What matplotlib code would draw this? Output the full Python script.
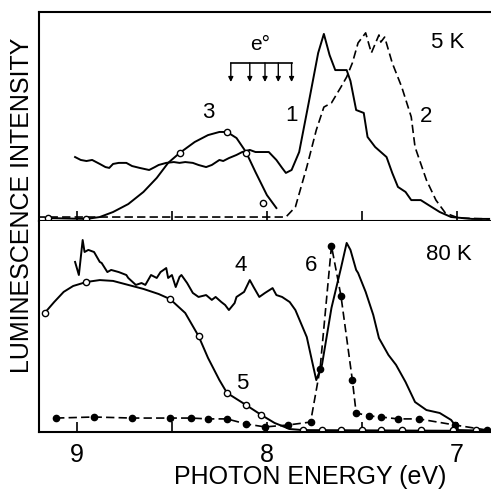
import matplotlib
matplotlib.use('Agg')
import matplotlib.pyplot as plt

plt.rcParams['font.family'] = ['Liberation Sans', 'DejaVu Sans']

# ---- 5 K panel ----
c1_e = [9.01, 8.98, 8.95, 8.92, 8.88, 8.85, 8.83, 8.81, 8.78, 8.74, 8.71, 8.67, 8.62, 8.59, 8.57,
        8.53, 8.49, 8.46, 8.43, 8.39, 8.36, 8.32, 8.29, 8.25, 8.23, 8.20, 8.16, 8.13, 8.09, 8.06,
        8.03, 7.99, 7.95, 7.92, 7.90, 7.87, 7.83, 7.78, 7.73, 7.70, 7.67, 7.64, 7.58, 7.56, 7.53,
        7.49, 7.47, 7.43, 7.37, 7.34, 7.31, 7.27, 7.24, 7.19, 7.15, 7.09, 7.03, 6.92, 6.83]
c1_i = [30.6, 29.2, 28.7, 29.2, 27.3, 25.8, 25.4, 27.3, 27.8, 27.8, 26.3, 25.4, 24.4, 25.8, 26.8,
        27.8, 28.2, 27.8, 28.2, 27.8, 26.8, 25.8, 26.8, 29.2, 28.7, 30.1, 31.6, 33.0, 34.0, 33.0,
        33.0, 33.0, 29.2, 25.4, 23.0, 24.4, 33.0, 56.5, 80.4, 89.5, 79.4, 72.2, 72.2, 67.0, 53.1,
        51.7, 40.2, 35.4, 30.6, 23.0, 16.3, 13.9, 10.0, 10.0, 7.7, 4.3, 1.9, 1.0, 1.0]

c2_e = [9.21, 7.90, 7.85, 7.79, 7.74, 7.70, 7.66, 7.61, 7.58, 7.55, 7.52, 7.48, 7.45, 7.41, 7.40,
        7.38, 7.34, 7.29, 7.24, 7.22, 7.16, 7.11, 7.06, 6.99, 6.83]
c2_i = [1.9, 1.9, 6.7, 25.8, 43.5, 54.5, 56.5, 64.1, 68.9, 75.6, 85.2, 90.0, 80.4, 89.0, 85.6,
        88.0, 75.6, 64.1, 49.8, 35.4, 19.6, 10.0, 3.8, 1.4, 1.0]

c3_e = [9.15, 8.95, 8.88, 8.81, 8.73, 8.65, 8.58, 8.52, 8.46, 8.38, 8.31, 8.25, 8.21, 8.16, 8.11,
        8.06, 8.00, 7.95]
c3_i = [1.4, 1.0, 1.9, 4.3, 8.1, 13.9, 20.6, 27.8, 32.5, 37.8, 41.1, 42.6, 42.6, 39.7, 33.0,
        23.4, 12.4, 6.2]
c3_pts_e = [9.15, 8.95, 8.46, 8.21, 8.11, 8.02]
c3_pts_i = [1.4, 1.0, 32.5, 42.6, 32.5, 8.6]

# e0 exciton levels (arrows)
e0_levels = [8.19, 8.09, 8.01, 7.94, 7.87]

# ---- 80 K panel ----
c4_e = [9.01, 8.99, 8.97, 8.96, 8.94, 8.91, 8.88, 8.87, 8.84, 8.82, 8.78, 8.74, 8.73, 8.69, 8.66,
        8.64, 8.61, 8.58, 8.56, 8.53, 8.52, 8.50, 8.48, 8.46, 8.45, 8.42, 8.39, 8.36, 8.32, 8.29,
        8.27, 8.24, 8.22, 8.20, 8.17, 8.16, 8.12, 8.09, 8.07, 8.04, 8.01, 7.97, 7.95, 7.92, 7.88,
        7.85, 7.79, 7.76, 7.74, 7.71, 7.66, 7.61, 7.58, 7.56, 7.53, 7.52, 7.48, 7.44, 7.41, 7.36,
        7.32, 7.27, 7.22, 7.16, 7.09, 7.03, 6.99, 6.83]
c4_i = [80.6, 74.4, 91.0, 85.3, 86.3, 85.3, 80.6, 80.1, 75.8, 76.8, 75.8, 74.4, 73.0, 69.7, 70.6,
        69.7, 74.4, 73.0, 75.8, 77.7, 73.0, 74.4, 68.7, 73.5, 74.4, 70.6, 65.9, 64.0, 64.9, 62.6,
        64.0, 61.6, 60.2, 57.8, 61.1, 64.0, 66.4, 72.0, 68.7, 64.0, 65.9, 68.2, 64.9, 64.0, 61.6,
        57.8, 45.0, 32.7, 24.6, 31.8, 58.8, 77.7, 89.6, 86.3, 76.8, 75.4, 66.4, 55.5, 44.5, 36.5,
        31.8, 23.7, 14.2, 10.4, 9.0, 5.7, 0.9, 0.5]

c5_e = [9.17, 9.12, 9.07, 9.02, 8.95, 8.88, 8.81, 8.73, 8.65, 8.57, 8.51, 8.43, 8.36, 8.31, 8.25,
        8.21, 8.11, 8.03, 7.96, 7.88, 7.81, 6.83]
c5_i = [56.4, 61.6, 66.4, 69.2, 71.1, 72.0, 71.6, 69.7, 67.8, 65.4, 63.0, 56.4, 45.5, 35.1, 24.6,
        18.5, 12.8, 8.1, 4.3, 1.4, 0.9, 0.5]
c5_pts_e = [9.17, 8.95, 8.51, 8.36, 8.21, 8.11, 8.03, 7.81, 7.71, 7.61, 7.50, 7.40, 7.29, 7.19,
            7.02, 6.90]
c5_pts_i = [56.4, 71.1, 63.0, 45.5, 18.5, 12.8, 8.1, 0.9, 0.9, 0.9, 0.9, 0.9, 0.9, 0.9, 0.9, 0.9]

c6_e = [9.11, 8.91, 8.71, 8.51, 8.40, 8.31, 8.21, 8.11, 8.01, 7.89, 7.77, 7.72, 7.66, 7.61, 7.55,
        7.53, 7.46, 7.40, 7.31, 7.20, 7.01, 6.84]
c6_i = [6.6, 7.1, 6.6, 6.6, 6.6, 6.2, 6.2, 3.8, 2.4, 3.3, 4.7, 29.9, 88.2, 64.5, 24.6,
        9.0, 7.6, 7.1, 6.2, 6.2, 3.3, 0.9]

fig = plt.figure(figsize=(4.91, 4.91), dpi=100)
ax1 = fig.add_axes([0.0794, 0.5499, 0.9206, 0.4257])
ax2 = fig.add_axes([0.0794, 0.1202, 0.9206, 0.4297])

lw = 1.4
dash = (0, (5, 2.5))

ax1.plot(c1_e, c1_i, color='black', lw=lw)
ax1.plot(c2_e, c2_i, color='black', lw=1.2, ls=dash)
ax1.plot(c3_e, c3_i, color='black', lw=lw)
ax1.plot(c3_pts_e, c3_pts_i, ls='none', marker='o', ms=4.5, mfc='white', mec='black', mew=1)

# e0 bracket with arrows
ax1.plot([e0_levels[0], e0_levels[-1]], [75.6, 75.6], color='black', lw=1.2)
for e in e0_levels:
    ax1.annotate('', xy=(e, 66.5), xytext=(e, 75.6),
                 arrowprops=dict(arrowstyle='-|>', color='black', lw=1.0,
                                 mutation_scale=7, shrinkA=0, shrinkB=0))
ax1.text(8.035, 80, 'e°', fontsize=15, ha='center', va='bottom')

ax1.text(8.31, 51.7, '3', fontsize=16, ha='center', va='center')
ax1.text(7.87, 50.7, '1', fontsize=16, ha='center', va='center')
ax1.text(7.16, 49.8, '2', fontsize=16, ha='center', va='center')
ax1.text(7.05, 85.2, '5 K', fontsize=16, ha='center', va='center')

ax2.plot(c4_e, c4_i, color='black', lw=lw)
ax2.plot(c5_e, c5_i, color='black', lw=lw)
ax2.plot(c6_e, c6_i, color='black', lw=1.2, ls=dash, marker='o', ms=4.5,
         mfc='black', mec='black')
ax2.plot(c5_pts_e, c5_pts_i, ls='none', marker='o', ms=4.5, mfc='white', mec='black', mew=1)

ax2.text(8.14, 79.1, '4', fontsize=16, ha='center', va='center')
ax2.text(8.13, 23.2, '5', fontsize=16, ha='center', va='center')
ax2.text(7.77, 79.1, '6', fontsize=16, ha='center', va='center')
ax2.text(7.04, 83.9, '80 K', fontsize=16, ha='center', va='center')

for ax in (ax1, ax2):
    ax.set_xlim(9.2, 6.82)
    ax.set_ylim(0, 100)
    ax.set_yticks([])
    ax.set_xticks([9, 8, 7])
    ax.set_xticks([8.5, 7.5], minor=True)
    ax.tick_params(axis='x', which='both', direction='in', length=7, width=1.2,
                   top=False, labelsize=18, pad=8)
    ax.spines['right'].set_visible(False)
    for s in ('left', 'top', 'bottom'):
        ax.spines[s].set_linewidth(1.5)

ax1.tick_params(axis='x', which='both', labelbottom=False)
ax2.spines['top'].set_visible(False)

fig.text(0.045, 0.5825, 'LUMINESCENCE INTENSITY', rotation=90, fontsize=18,
         ha='center', va='center')
fig.text(0.631, 0.029, 'PHOTON ENERGY (eV)', fontsize=18, ha='center', va='center')

fig.savefig('out.png', dpi=100)
